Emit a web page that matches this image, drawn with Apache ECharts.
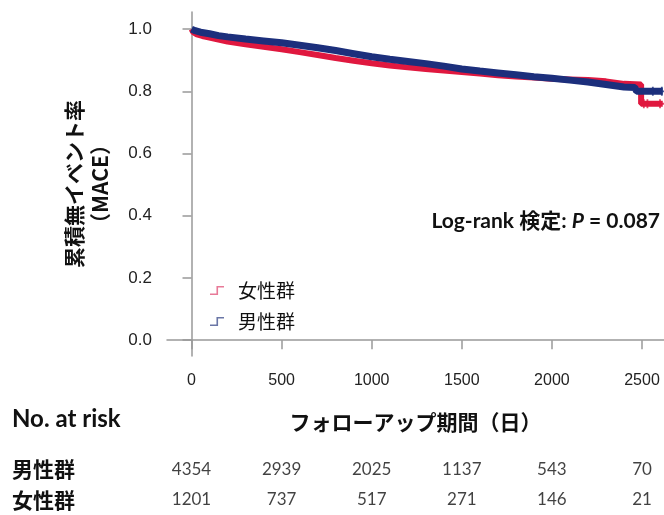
<!DOCTYPE html>
<html><head><meta charset="utf-8">
<script src="https://cdn.jsdelivr.net/npm/echarts@6/dist/echarts.min.js"></script>
<style>html,body{margin:0;padding:0;background:#fff}#c{width:664px;height:515px}</style>
</head><body><div id="c"></div>
<script>
// Kaplan-Meier curves; repeated times mark the visible vertical drops
const maleTime = [0, 20, 50, 100, 150, 200, 300, 400, 500, 600, 700, 800, 900, 1000, 1100, 1200, 1300, 1400, 1500, 1600, 1700, 1800, 1900, 2000, 2100, 2200, 2300, 2400, 2460, 2470, 2615];
const maleSurv = [1.0, 0.995, 0.99, 0.985, 0.979, 0.975, 0.968, 0.962, 0.956, 0.948, 0.940, 0.931, 0.921, 0.911, 0.903, 0.896, 0.889, 0.881, 0.872, 0.865, 0.859, 0.853, 0.847, 0.842, 0.836, 0.830, 0.822, 0.814, 0.812, 0.800, 0.800];
const femaleTime = [0, 10, 30, 60, 100, 150, 200, 300, 400, 500, 600, 700, 800, 900, 1000, 1100, 1200, 1300, 1400, 1500, 1600, 1700, 1800, 1900, 2000, 2100, 2200, 2300, 2400, 2495, 2495, 2615];
const femaleSurv = [1.0, 0.99, 0.983, 0.978, 0.973, 0.966, 0.960, 0.951, 0.943, 0.935, 0.926, 0.917, 0.907, 0.898, 0.890, 0.883, 0.877, 0.872, 0.867, 0.862, 0.857, 0.852, 0.848, 0.844, 0.840, 0.838, 0.836, 0.832, 0.824, 0.822, 0.760, 0.760];
// censoring marks visible at the tail
const maleCensorTime = [2560, 2610];
const maleCensorSurv = [0.800, 0.800];
const femaleCensorTime = [2510, 2530, 2600];
const femaleCensorSurv = [0.760, 0.760, 0.760];

const xTicks = [0, 500, 1000, 1500, 2000, 2500];
const yTicks = [0, 0.2, 0.4, 0.6, 0.8, 1.0];
// number at risk
const riskTimes = [0, 500, 1000, 1500, 2000, 2500];
const maleRisk = [4354, 2939, 2025, 1137, 543, 70];
const femaleRisk = [1201, 737, 517, 271, 146, 21];

const RED = '#e0183f', BLUE = '#1c2f7c';
const XMIN = -136, XMAX = 2622;
const SANS = 'Liberation Sans, Arial, sans-serif';
const CJK = 'Noto Sans CJK JP, sans-serif';
const plusPath = 'path://M4,0 L6,0 L6,4 L10,4 L10,6 L6,6 L6,10 L4,10 L4,6 L0,6 L0,4 L4,4 Z';
const stepIcon = 'path://M0,8 L6,8 L6,1 L13,1 L13,2.5 L7.5,2.5 L7.5,9.5 L0,9.5 Z';

const chart = echarts.init(document.getElementById('c'));
const zip = (a, b) => a.map((v, i) => [v, b[i]]);
chart.setOption({
  animation: false,
  grid: [
    {left: 167, top: 12, right: 0, bottom: 159},
    {left: 167, top: 454, right: 0, height: 64}
  ],
  legend: {
    orient: 'vertical', left: 205, top: 276, itemGap: 12,
    itemWidth: 14, itemHeight: 10,
    data: [
      {name: '女性群', icon: stepIcon, itemStyle: {color: '#e87a98'}},
      {name: '男性群', icon: stepIcon, itemStyle: {color: '#6a76a6'}}
    ],
    textStyle: {fontSize: 19, color: '#111', fontFamily: CJK, padding: [0, 0, 0, 9]}
  },
  xAxis: [
    {
      type: 'value', gridIndex: 0, min: XMIN, max: XMAX,
      name: 'フォローアップ期間（日）', nameLocation: 'middle', nameGap: 56,
      nameTextStyle: {fontSize: 21, fontWeight: 'bold', color: '#111', fontFamily: CJK},
      axisLine: {show: true, lineStyle: {color: '#999', width: 1.5}},
      axisTick: {show: true, length: 9, customValues: xTicks, lineStyle: {color: '#999', width: 1.5}},
      axisLabel: {customValues: xTicks, fontSize: 16, color: '#222', margin: 17, fontFamily: SANS, formatter: v => String(v)},
      splitLine: {show: false}
    },
    {
      type: 'value', gridIndex: 1, min: XMIN, max: XMAX, show: false
    }
  ],
  yAxis: [
    {
      type: 'value', gridIndex: 0, min: -0.051, max: 1.055,
      name: '累積無イベント率\n（MACE）', nameLocation: 'middle', nameRotate: 90, nameGap: 54,
      nameTextStyle: {fontSize: 21, fontWeight: 'bold', color: '#111', lineHeight: 26, fontFamily: CJK},
      axisLine: {show: true, lineStyle: {color: '#999', width: 1.5}},
      axisTick: {show: true, length: 9, customValues: yTicks, lineStyle: {color: '#999', width: 1.5}},
      axisLabel: {customValues: yTicks, fontSize: 17, color: '#222', margin: 15, fontFamily: SANS, formatter: v => v.toFixed(1)},
      splitLine: {show: false}
    },
    {
      type: 'category', gridIndex: 1, data: ['女性群', '男性群'],
      axisLine: {show: false}, axisTick: {show: false},
      axisLabel: {align: 'left', margin: 155, fontSize: 21, fontWeight: 'bold', color: '#111', fontFamily: CJK}
    }
  ],
  series: [
    {
      name: '女性群', type: 'line', xAxisIndex: 0, yAxisIndex: 0,
      data: zip(femaleTime, femaleSurv), showSymbol: false, symbol: 'none',
      lineStyle: {color: RED, width: 6}, itemStyle: {color: RED}, z: 2
    },
    {
      name: '男性群', type: 'line', xAxisIndex: 0, yAxisIndex: 0,
      data: zip(maleTime, maleSurv), showSymbol: false, symbol: 'none',
      lineStyle: {color: BLUE, width: 7}, itemStyle: {color: BLUE}, z: 3
    },
    {
      type: 'scatter', xAxisIndex: 0, yAxisIndex: 0, symbol: plusPath, symbolSize: 9,
      data: zip(femaleCensorTime, femaleCensorSurv), itemStyle: {color: RED}, z: 2
    },
    {
      type: 'scatter', xAxisIndex: 0, yAxisIndex: 0, symbol: plusPath, symbolSize: 9,
      data: zip(maleCensorTime, maleCensorSurv), itemStyle: {color: BLUE}, z: 3
    },
    {
      type: 'scatter', xAxisIndex: 1, yAxisIndex: 1, symbolSize: 0, silent: true,
      data: riskTimes.map((t, i) => [t, '男性群', maleRisk[i]]),
      label: {show: true, position: 'inside', formatter: p => p.value[2], fontSize: 17, color: '#111', fontFamily: 'Lato'}
    },
    {
      type: 'scatter', xAxisIndex: 1, yAxisIndex: 1, symbolSize: 0, silent: true,
      data: riskTimes.map((t, i) => [t, '女性群', femaleRisk[i]]),
      label: {show: true, position: 'inside', formatter: p => p.value[2], fontSize: 17, color: '#111', fontFamily: 'Lato'}
    }
  ],
  graphic: [
    {
      type: 'text', left: 12, top: 407,
      style: {text: 'No. at risk', fontSize: 24, fontWeight: 'bold', fill: '#111', fontFamily: 'Lato'}
    },
    {
      type: 'text', right: 4, top: 211,
      style: {
        text: '{a|Log-rank 検定: }{p|P}{a| = 0.087}',
        rich: {
          a: {fontSize: 21, fontWeight: 'bold', fill: '#111', fontFamily: 'Lato, Noto Sans CJK JP'},
          p: {fontSize: 21, fontWeight: 'bold', fontStyle: 'italic', fill: '#111', fontFamily: 'Lato'}
        }
      }
    }
  ]
});
</script></body></html>
